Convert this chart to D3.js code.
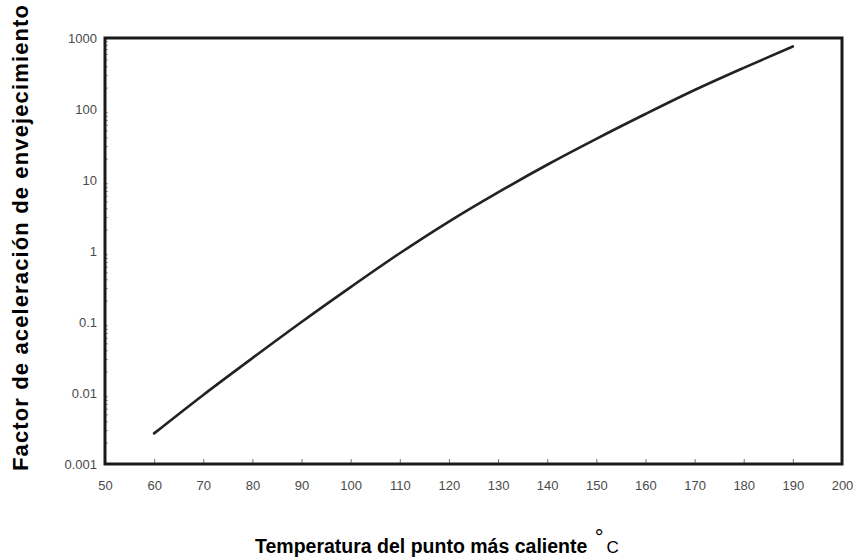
<!DOCTYPE html>
<html>
<head>
<meta charset="utf-8">
<script src="https://cdn.jsdelivr.net/npm/d3@7/dist/d3.min.js"></script>
<style>
  html, body { margin: 0; padding: 0; background: #ffffff; }
  svg { display: block; }
  .tick text { font-family: "Liberation Sans", Arial, sans-serif; fill: #4a4a4a; }
</style>
</head>
<body>
<svg id="chart" width="853" height="557"></svg>
<script>
// Hot-spot temperature (°C) and aging acceleration factor
const temperatures = [60, 70, 80, 90, 100, 110, 120, 130, 140, 150, 160, 170, 180, 190];
const agingFactor  = [0.0027, 0.0094, 0.031, 0.10, 0.31, 0.93, 2.6, 6.7, 16.4, 38, 85, 185, 380, 760];

// Axis ticks and labels
const xTickMarks  = [60, 70, 80, 90, 100, 110, 120, 130, 140, 150, 160, 170, 180, 190];
const xTickLabels = [50, 60, 70, 80, 90, 100, 110, 120, 130, 140, 150, 160, 170, 180, 190, 200];
const yTickValues = [0.001, 0.01, 0.1, 1, 10, 100, 1000];
const yTickLabels = ["0.001", "0.01", "0.1", "1", "10", "100", "1000"];

const yTitle = "Factor de aceleración de envejecimiento";
const xTitle = "Temperatura del punto más caliente";
const xUnit  = "C";

const svg = d3.select("#chart");
const frame = { left: 105, right: 842, top: 38, bottom: 464 };

const x = d3.scaleLinear().domain([50, 200]).range([frame.left, frame.right]);
const y = d3.scaleLog().domain([0.001, 1000]).range([frame.bottom, frame.top]);

// minor log ticks along the left edge
const minor = [];
for (let e = -3; e < 3; e++) {
  for (let m = 2; m <= 9; m++) minor.push(m * Math.pow(10, e));
}
svg.append("g")
  .attr("transform", `translate(${frame.left},0)`)
  .call(d3.axisLeft(y).tickValues(minor).tickSizeInner(-3).tickSizeOuter(0).tickFormat(""))
  .call(g => g.select(".domain").remove())
  .call(g => g.selectAll("line").attr("stroke", "#999").attr("stroke-width", 1));

// y axis labels
svg.append("g")
  .attr("transform", `translate(${frame.left},0)`)
  .call(d3.axisLeft(y).tickValues(yTickValues).tickSize(0).tickPadding(8)
    .tickFormat((d, i) => yTickLabels[i]))
  .call(g => g.select(".domain").remove())
  .call(g => g.selectAll("text").attr("font-size", 13));

// x tick marks pointing inward
svg.append("g")
  .attr("transform", `translate(0,${frame.bottom})`)
  .call(d3.axisBottom(x).tickValues(xTickMarks).tickSizeInner(-5).tickSizeOuter(0).tickFormat(""))
  .call(g => g.select(".domain").remove())
  .call(g => g.selectAll("line").attr("stroke", "#777").attr("stroke-width", 1));

// x axis labels
svg.append("g")
  .attr("transform", `translate(0,${frame.bottom})`)
  .call(d3.axisBottom(x).tickValues(xTickLabels).tickSize(0).tickPadding(17))
  .call(g => g.select(".domain").remove())
  .call(g => g.selectAll("text").attr("font-size", 13));

// curve
const line = d3.line()
  .x((d, i) => x(temperatures[i]))
  .y(d => y(d))
  .curve(d3.curveCatmullRom);

svg.append("path")
  .datum(agingFactor)
  .attr("d", line)
  .attr("fill", "none")
  .attr("stroke", "#222")
  .attr("stroke-width", 2.6)
  .attr("stroke-linecap", "round");

// plot frame
svg.append("rect")
  .attr("x", frame.left)
  .attr("y", frame.top)
  .attr("width", frame.right - frame.left)
  .attr("height", frame.bottom - frame.top)
  .attr("fill", "none")
  .attr("stroke", "#1a1a1a")
  .attr("stroke-width", 3);

// axis titles
svg.append("text")
  .attr("transform", "translate(28,471) rotate(-90)")
  .attr("font-family", "'Liberation Sans', Arial, sans-serif")
  .attr("font-weight", "bold")
  .attr("font-size", 22)
  .attr("textLength", 466)
  .attr("lengthAdjust", "spacing")
  .attr("fill", "#000")
  .text(yTitle);

const xt = svg.append("text")
  .attr("x", 255)
  .attr("y", 553)
  .attr("font-family", "'Liberation Sans', Arial, sans-serif")
  .attr("font-size", 19.5)
  .attr("fill", "#000");
xt.append("tspan").attr("font-weight", "bold").text(xTitle + " ");
xt.append("tspan").attr("font-size", 22).attr("dy", -8).attr("dx", 2).text("°");
xt.append("tspan").attr("font-size", 17).attr("dy", 8).attr("dx", 3).text(xUnit);
</script>
</body>
</html>
